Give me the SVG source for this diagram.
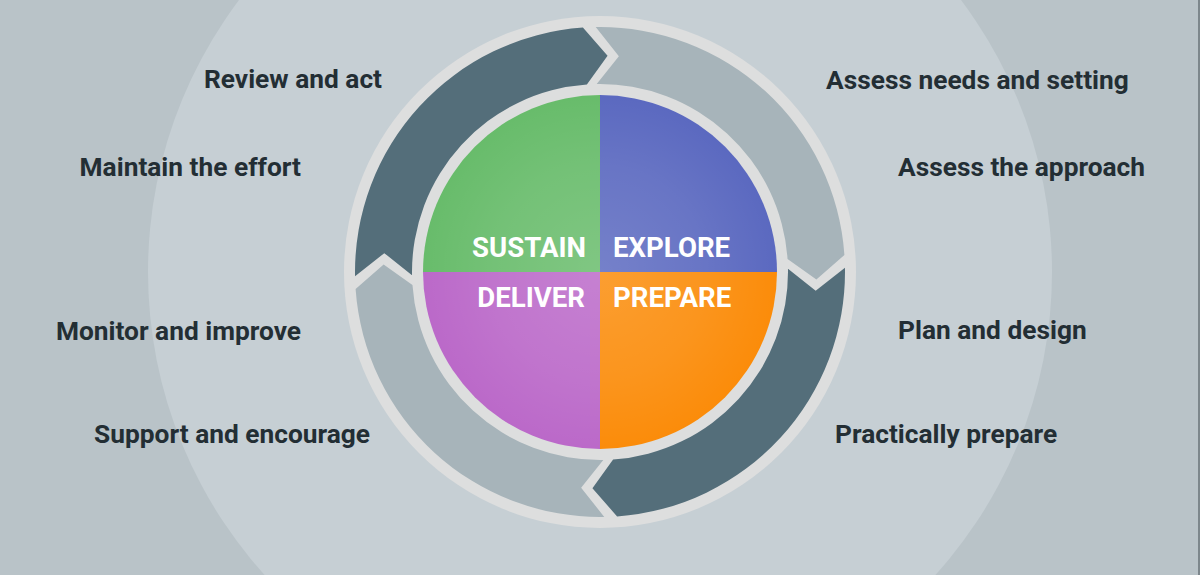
<svg xmlns="http://www.w3.org/2000/svg" width="1200" height="575" viewBox="0 0 1200 575">
  <defs>
    <radialGradient id="glow" cx="600" cy="272" r="177" gradientUnits="userSpaceOnUse">
      <stop offset="0" stop-color="#ffffff" stop-opacity="0.16"/>
      <stop offset="0.6" stop-color="#ffffff" stop-opacity="0.08"/>
      <stop offset="1" stop-color="#ffffff" stop-opacity="0"/>
    </radialGradient>
    <style>
      .lbl { font-family: Roboto, "Liberation Sans", sans-serif; font-weight: 700; font-size: 26.3px; fill: #232e34; }
      .ph { font-family: Roboto, "Liberation Sans", sans-serif; font-weight: 700; font-size: 27.6px; fill: #ffffff; }
      .dark { fill: #546e7a; }
      .light { fill: #a7b4ba; }
    </style>
  </defs>

  <rect x="0" y="0" width="1200" height="575" fill="#b9c3c8"/>
  <circle cx="600" cy="272" r="452" fill="#c6cfd4"/>
  <rect x="1198" y="0" width="2" height="575" fill="#7d878c"/>

  <circle id="ring" cx="600" cy="272" r="256" fill="#dddede"/>

  <g id="connectors">
    <path id="arrow-review" class="dark" d="M 355.04 276.28 A 245 245 0 0 1 582.91 27.60 L 607.56 55.63 L 586.89 84.46 A 188 188 0 0 0 412.03 275.28 L 384.32 253.13 Z"/>
    <path id="arrow-explore" class="light" d="M 595.72 27.04 A 245 245 0 0 1 844.40 254.91 L 816.37 279.56 L 787.54 258.89 A 188 188 0 0 0 596.72 84.03 L 618.87 56.32 Z"/>
    <path id="arrow-prepare" class="dark" d="M 844.96 267.72 A 245 245 0 0 1 617.09 516.40 L 592.44 488.37 L 613.11 459.54 A 188 188 0 0 0 787.97 268.72 L 815.68 290.87 Z"/>
    <path id="arrow-deliver" class="light" d="M 604.28 516.96 A 245 245 0 0 1 355.60 289.09 L 383.63 264.44 L 412.46 285.11 A 188 188 0 0 0 603.28 459.97 L 581.13 487.68 Z"/>
  </g>

  <g id="sustain">
    <path d="M600 272 L423 272 A177 177 0 0 1 600 95 Z" fill="#68bc6b"/>
  </g>
  <g id="explore">
    <path d="M600 272 L600 95 A177 177 0 0 1 777 272 Z" fill="#5b69c0"/>
  </g>
  <g id="prepare">
    <path d="M600 272 L777 272 A177 177 0 0 1 600 449 Z" fill="#fb8c0a"/>
  </g>
  <g id="deliver">
    <path d="M600 272 L600 449 A177 177 0 0 1 423 272 Z" fill="#bb69c9"/>
  </g>
  <circle cx="600" cy="272" r="177" fill="url(#glow)"/>

  <g id="phase-labels">
    <text class="ph" x="586" y="257" text-anchor="end">SUSTAIN</text>
    <text class="ph" x="613" y="257">EXPLORE</text>
    <text class="ph" x="585" y="307" text-anchor="end">DELIVER</text>
    <text class="ph" x="613" y="307">PREPARE</text>
  </g>

  <g id="label-review"><text class="lbl" x="382" y="88" text-anchor="end">Review and act</text></g>
  <g id="label-maintain"><text class="lbl" x="301" y="176" text-anchor="end">Maintain the effort</text></g>
  <g id="label-monitor"><text class="lbl" x="301" y="340" text-anchor="end">Monitor and improve</text></g>
  <g id="label-support"><text class="lbl" x="370" y="443" text-anchor="end">Support and encourage</text></g>
  <g id="label-needs"><text class="lbl" x="826" y="89">Assess needs and setting</text></g>
  <g id="label-approach"><text class="lbl" x="898" y="176">Assess the approach</text></g>
  <g id="label-plan"><text class="lbl" x="898" y="339">Plan and design</text></g>
  <g id="label-practical"><text class="lbl" x="835" y="443">Practically prepare</text></g>
</svg>
